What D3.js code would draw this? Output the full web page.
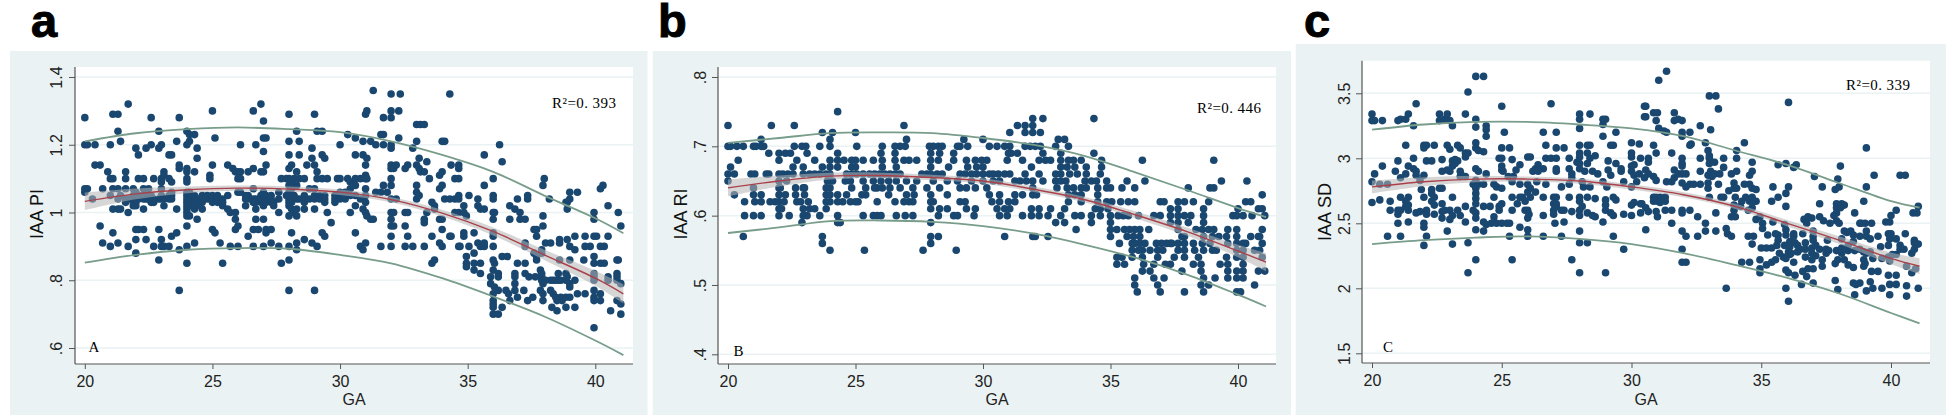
<!DOCTYPE html>
<html><head><meta charset="utf-8">
<script src="https://cdn.jsdelivr.net/npm/d3@7/dist/d3.min.js"></script>
<style>html,body{margin:0;padding:0;background:#fff;overflow:hidden}svg{display:block}</style>
</head><body><svg id="c" width="1946" height="417"></svg>
<script>
// each row: gestational age, then the values read at that age
const gaTicks=[20,25,30,35,40];
const fitGA=[20,22,24,26,28,30,32,34,36,38,40,41.1];

const piTicks=[.6,.8,1,1.2,1.4], piTickLabels=[".6",".8","1","1.2","1.4"];
const piFit=[1.033,1.055,1.067,1.072,1.069,1.06,1.038,.998,.944,.875,.806,.76];
const piUpper=[1.21,1.234,1.246,1.251,1.246,1.237,1.21,1.17,1.12,1.05,.983,.939];
const piLower=[.852,.875,.89,.895,.893,.875,.85,.806,.752,.693,.622,.579];
const piHalf=[.026,.016,.01,.008,.008,.008,.008,.01,.012,.015,.022,.028];
const piRows=[
[20,1.28,1.2,1.07,1.06],[20.1,1.2,1.07],[20.3,1.04],[20.4,1.2,1.14],[20.6,1.14,.96],[20.7,1.07,.91],[20.9,1.12],[21,1.2,1.1,1.05,.9],[21.1,1.29,1.1,1.07,1.01,.94],[21.3,1.29,1.24,1.07,1.04,1.01,.91],[21.4,1.21,1.05,1.01],[21.6,1.12,1.1,1.07,1.04,1.03],[21.7,1.32,1.04,1,.9],[21.9,1.07,1.05,1.03,1.02],
[22,1.19,1.06,1.04,1.03,1.02,.95,.92,.88],[22.1,1.17,1.1,1.05,1.04,.95],[22.3,1.1,1.07,1.05,1.04,1.01,.95],[22.4,1.19,1.05,1.04,.92],[22.5,1.07,1.04],[22.6,1.28,1.2,1.05,1.03],[22.7,1.1,1.04,1.03,.9],[22.9,1.24,1.19,1.04,.95,.86],[23,1.2,1.1,1.09,1.07,1.05,1.04,.92,.9],[23.1,1.12,1.11,1.04,1.02,.9],[23.3,1.17,1.1,1.05,1.04,.9],[23.4,1.17,1.09,1.06,1.05,1.04,.93],[23.6,1.21,1.01,.94],[23.7,1.28,1.14,1.13,.89,.77],
[24,1.24,1.2,1.13,1.12,1.1,1.09,1.06,1.05,1.04,1.03,1.02,1.01,1,.99,.96,.9,.85],[24.1,1.23,1.21,1.06,1.04,1.03,1.02,.99],[24.3,1.23,1.12,1.05,1.03,1.01,.91],[24.4,1.19,1.16,1.04,1.02,.98],[24.6,1.05,1.04,1.03,1.01],[24.8,1.05,1.04],[24.9,1.11,1.1],[25,1.3,1.14,1.05,1.04,1.03,.95],[25.1,1.22,.94],[25.2,1.05,1.04,1.03],[25.3,.91],[25.4,1.04,1.03,1.02,.85],[25.6,1.14,1.05,1.01],[25.7,1.0,.9],[25.8,1.13],[25.9,1.12,1,.98,.95],
[26,1.12,1.1,1.06,.96,.9],[26.1,1.2,1.12,1.1,1.06],[26.3,1.05,1.04,1.02],[26.4,1.12,1.05,1.04,.93],[26.6,1.3,1.13,1.07,1.04,1.03,.95,.9],[26.7,1.2,1.04,1.03,1.01,.98],[26.8,.95],[26.9,1.32,1.12,1.05,1.04,1.03],[27,1.27,1.22,1.18,1.12,1.06,1.05,1.04,1.03,1.02,.98,.9],[27.1,1.22,1.14,1.05,1.04,1.03,.95,.94],[27.3,1.05,1.04,1.03,.95,.91],[27.4,1.03,1.02],[27.6,1.06,1.04,1,.9],[27.7,.85,1.1],[27.9,1.1,1.05],
[28,1.29,1.21,1.17,1.13,1.1,1.08,1.06,1.05,1.04,1.03,1.02,.99,.9,.86,.77],[28.1,1.14,1.09,1.07,1.05,1.03,1.01,.94],[28.2,1.1,1.05,1],[28.3,1.24,1.12,1.08,1.04,1.01,.99,.91,.89],[28.4,1.21,1.17,1.1,1.04],[28.6,1.1,1.05,1.03,1.01,.92],[28.7,1.14],[28.8,1.07,1.04],[28.9,1.19,1.16,.91],[29,1.29,1.14,1.07,1.05,1.04,1.01,.77],[29.1,1.24,1.12,1.1,.9],[29.2,1.05,1.04],[29.3,1.24,1.17,1.1,.94],[29.4,1.16,1.05,1.04,1.03,.93],[29.5,1.1,1.0],[29.65,.97],[29.8,1.05,1.04,1.03],[29.9,1.1],
[30,1.2,1.1,1.06,1.05,1.04],[30.2,1.06,1.04],[30.3,1.23,1.1],[30.4,1.09,1.07,1.05,1],[30.6,1.22,1.17,1.1,1.08,1.05,1.02,.94],[30.8,1.1,1.04,.9],[30.9,1.21,1.17,1.01,.89],[31,1.29,1.14,1.11,1.1,1.07,1.05,1.03,1,.91],[31.05,1.3,1.16,1.1,.99],[31.2,1.21,.98],[31.3,1.36,.98],[31.4,1.2,1.06],[31.6,1.23,1.06,.9],[31.7,1.28,1.23,1.2,1.08],[31.85,1.06],
[32,1.35,1.3,1.28,1.2,1.19,1.14,1.13,1.1,1.08,1.04,1.0,.98,.96,.93,.9],[32.1,1.13,1,.96],[32.2,1.14,1.04],[32.3,1.3,1.22],[32.36,1.35],[32.55,1.13,1,.96,.9],[32.65,1.14,1,.93],[32.85,1.19,.9],[33,1.26,1.21,1.14,1.08,1.06,1.04],[33.1,1.16,1.13,1.05],[33.15,1.26,1.12],[33.3,1.26,1.12,.98,.97,.9],[33.4,1.15,1.0],[33.5,1.1],[33.6,1.03,.93,.85],[33.7,1.02,1.01,.86],[33.9,1.11,1.07,.98,.91],
[34,1.21,1.12,1.08,.98,.95,.9],[34.1,1.04,1.21],[34.3,1.35,.93,1.04],[34.35,1.14,.93],[34.5,1.1,1,1.04],[34.65,1.14,1.13,1.1,1.05,1.04,1,.9],[34.7,.9],[34.85,1.02,1,.94,.93],[34.95,.87,.85,.84,.99],[35.05,1.05,.9],[35.25,.88,.85,.83,.94],[35.4,1.04,1.02,.91],[35.5,1.01,.85,.82,.9],[35.65,1.17,1.08,1.01,.91,.9],[35.9,.81,.79],[36,1.1,1.05,1.04,1,.98,.94,.93,.9,.86,.83,.76,.74,.73,.72,.7],[36.05,1,.85,.78],
[36.2,.82,.81,.77,.7],[36.25,1.2],[36.35,1.15,.87,.72],[36.5,.77],[36.55,.87],[36.6,.76],[36.65,1.02,.98,.74],[36.85,1.01,.82,.81,.79,.77],[36.95,1.04,.85,.75],[37.05,1,.98],[37.2,.77],[37.25,.98,.91,.9,.85,.82],[37.35,1.05,1.04,.74],[37.4,.81],[37.55,.75],[37.6,.95,.88],[37.65,.81],[37.7,.95,.93,.87,.86],[37.85,.83,.77],[37.9,.89,.88,.82,.81,.8],[37.95,1.08,.99,.96,.79,.76,.74],[38,1.1],
[38.05,.91,.8],[38.2,1.04],[38.25,.91,.77,.8],[38.3,.72],[38.35,.76,.8],[38.45,.75,.8],[38.5,.74,.71],[38.55,.82,.8],[38.6,.92,.91,.86],[38.65,.75,.8],[38.7,.74],[38.85,1.03,.75,.72,.82,.8],[38.9,1.03,1.01,.92,.81],[39,1.06,1.04,.9,.86,.79,.78,.75],[39.2,.93,.89,.72,.8],[39.3,1.06,.76],[39.55,.86],[39.6,.93,.9,.76],[39.8,.9],[39.95,1,.98,.93,.87,.85,.82,.81,.8,.77,.75,.74,.66],[40.05,.93],
[40.2,1.07,.9,.85,.76,.74],[40.3,1.08],[40.35,.9,.85],[40.5,1.02,.93,.8,.81],[40.6,.71],[40.85,.86,.82,.81,.8,.74],[40.9,1,.86],[41,.96,.79,.73,.7]
];

const riTicks=[.4,.5,.6,.7,.8], riTickLabels=[".4",".5",".6",".7",".8"];
const riFit=[.64,.65,.657,.658,.655,.65,.638,.623,.601,.577,.549,.533];
const riUpper=[.705,.712,.719,.72,.719,.712,.702,.686,.662,.637,.611,.598];
const riLower=[.575,.583,.592,.593,.591,.585,.574,.558,.539,.515,.486,.469];
const riHalf=[.012,.008,.005,.004,.004,.004,.004,.004,.005,.006,.009,.013];
const riRows=[
[20,.73,.7,.66,.65],[20.1,.7,.67],[20.25,.66,.63],[20.35,.7],[20.4,.68],[20.6,.7,.57],[20.65,.62,.6],[20.9,.66],[21,.7,.64,.63,.6],[21.05,.66,.62],[21.1,.7],[21.3,.71,.7,.63,.62,.6],[21.4,.7],[21.5,.66],[21.6,.69,.66],[21.65,.62],[21.7,.73],[21.85,.62],
[22,.69,.68,.66,.65,.64,.63,.62,.61,.6],[22.05,.64],[22.1,.61],[22.15,.66],[22.2,.62],[22.25,.69,.63],[22.3,.65],[22.35,.66],[22.4,.6],[22.45,.69],[22.55,.67,.66],[22.6,.73,.7],[22.65,.64,.63],[22.7,.68,.62],[22.85,.62],[22.9,.7,.59],[22.95,.67,.66,.64,.61,.6],[23,.64,.63],[23.05,.7],[23.1,.69,.6],[23.15,.62],[23.2,.66,.61],[23.4,.68,.66,.61],[23.6,.7,.66,.6],[23.7,.72,.67,.57,.56],[23.85,.66,.64,.63,.62,.61],[23.9,.65],
[24,.71,.7,.68,.67,.66,.64,.63,.62,.55],[24.1,.72,.65],[24.3,.75,.69,.68,.67,.63,.62,.6,.59],[24.4,.59],[24.5,.62],[24.55,.68],[24.6,.65],[24.65,.66,.63],[24.8,.62,.65],[24.85,.68,.67,.66,.64],[25,.72,.68,.67,.62],[25.05,.7,.66],[25.1,.62],[25.25,.63],[25.3,.68,.66,.65,.6],[25.35,.55],[25.4,.63,.64],[25.55,.66],[25.7,.68,.6,.65],[25.75,.66,.64],[25.85,.62,.6,.64],[25.95,.66],
[26,.69,.65,.6],[26.05,.7,.68,.67,.64],[26.15,.66],[26.3,.63,.65],[26.35,.66,.64],[26.55,.7,.69,.68,.66,.62],[26.6,.67,.6,.65],[26.75,.7,.66,.64],[26.9,.73,.68,.62],[26.95,.7,.6],[27,.71,.63,.65],[27.1,.68,.62],[27.25,.62,.6,.64],[27.3,.63],[27.4,.68,.65],[27.6,.66],[27.65,.55],[27.8,.66,.64],[27.9,.7],[27.95,.69,.68,.67,.66,.63,.62,.61,.59,.57,.56],[28.05,.7,.62,.65],[28.2,.66],[28.25,.7,.68,.6,.57],[28.3,.69,.61,.64],[28.4,.7,.66],[28.6,.63,.61,.65],[28.65,.67],
[28.85,.69,.68,.6],[28.95,.55],[29,.7,.6,.65],[29.1,.7,.66,.62,.64],[29.25,.71],[29.3,.66,.62],[29.35,.68,.61,.64],[29.4,.7,.67],[29.55,.66,.65],[29.65,.6],[29.7,.68,.61,.64],[29.75,.67,.66],[29.95,.68],[30,.71,.67,.66,.65],[30.15,.68,.64],[30.25,.7,.66,.63],[30.35,.62],[30.4,.66,.65],[30.55,.7,.61],[30.6,.66],[30.65,.63,.62,.6,.65],[30.85,.7,.66,.61,.57],[30.95,.68,.6],[31,.69,.62],
[31.05,.72,.7,.66,.61],[31.1,.69],[31.25,.65,.63,.62],[31.35,.73,.69],[31.45,.65],[31.55,.68,.63,.6],[31.65,.73,.72,.7,.66],[31.7,.65],[31.85,.7],[31.9,.67,.61,.6],[31.95,.74,.73,.72,.65,.64,.63,.57],[32.05,.7,.57],[32.1,.63],[32.2,.68,.66,.61,.6],[32.25,.72,.7],[32.35,.74,.69,.65],[32.45,.68],[32.55,.6,.57],[32.65,.68,.61],[32.85,.7,.66,.65,.59],[32.9,.64],[32.95,.71],[33.05,.69,.68,.67,.66,.65,.6],[33.2,.71,.61,.59],[33.25,.65],[33.3,.67,.64],[33.35,.7,.68,.63,.62],[33.4,.66],[33.55,.68,.64],[33.6,.67,.63,.6],[33.65,.58],[33.7,.66],[33.85,.68,.64,.63,.62,.6],[34.05,.67,.66,.64],[34,.65],[34.25,.65,.6,.59],[34.35,.74,.69],[34.4,.61],[34.45,.65],[34.5,.64,.63,.62],[34.6,.66,.61,.6],[34.65,.68,.67],[34.85,.65,.64,.62],[34.9,.61],
[35,.64,.6,.59,.58,.57],[35.05,.62],[35.25,.58,.54,.53],[35.3,.6],[35.35,.56],[35.4,.62],[35.45,.64,.54],[35.5,.6],[35.55,.58,.53],[35.65,.65,.57],[35.7,.62,.6],[35.75,.58],[35.85,.56,.55,.54],[35.9,.57],[35.95,.64,.62,.58,.56,.51,.5],[36.05,.49],[36.1,.6,.55],[36.15,.58,.57,.56],[36.25,.68,.55,.54,.52],[36.3,.53],[36.35,.65,.56],[36.5,.58],[36.55,.55,.52],[36.7,.6,.53,.51],[36.8,.56],[36.85,.55,.54,.5],[36.95,.62,.6,.49],[37,.56],[37.05,.55],[37.1,.62,.51],[37.15,.53],[37.2,.56],[37.35,.61,.6,.59,.56,.53],[37.4,.56],[37.5,.54],[37.65,.62,.61,.6,.59,.58,.56,.55],[37.8,.57,.52],[37.9,.62,.6,.57,.56,.55,.54,.49],[38.05,.64,.59],[38.15,.6],[38.25,.62,.56,.53],[38.3,.55],[38.35,.58],[38.45,.54],[38.55,.53,.52,.5],[38.6,.58,.56],[38.65,.61,.6,.59,.57,.55,.51,.49],[38.85,.62,.58,.5],[38.9,.64,.56],[39,.57,.55],[39.05,.68,.64,.58],[39.1,.51],[39.15,.55],[39.25,.57],[39.3,.53],[39.35,.65],[39.55,.57,.54],[39.6,.58,.56,.53,.52,.51],[39.8,.6],[39.95,.6,.58,.57,.56,.55,.54,.52,.51,.49],[40,.61],[40.1,.49],[40.2,.6,.56,.55,.54,.53,.52,.51],[40.3,.62,.56],[40.35,.65],[40.5,.62,.57],[40.55,.6],[40.65,.55,.5],[40.8,.61,.57,.52],[40.85,.57,.55],[40.95,.63,.61,.58,.56,.54],[41.05,.6,.52]
];

const sdTicks=[1.5,2,2.5,3,3.5], sdTickLabels=["1.5","2","2.5","3","3.5"];
const sdFit=[2.78,2.82,2.84,2.84,2.825,2.78,2.72,2.63,2.5,2.37,2.23,2.17];
const sdUpper=[3.22,3.26,3.28,3.28,3.26,3.23,3.17,3.06,2.95,2.81,2.67,2.62];
const sdLower=[2.34,2.37,2.39,2.4,2.38,2.34,2.27,2.18,2.08,1.96,1.81,1.73];
const sdHalf=[.05,.035,.025,.02,.02,.02,.02,.02,.025,.03,.045,.06];
const sdRows=[
[20,3.34,3.29,2.82,2.66],[20.1,3.29,2.88],[20.3,2.8,2.68],[20.4,3.29,2.94],[20.6,2.8,2.4],[20.7,2.67,2.6],[20.9,2.9],[21,3.29,2.98,2.6,2.57,2.5],[21.1,3.3,2.85,2.7,2.6,2.4],[21.3,3.3,3.1,2.88,2.67,2.63],[21.4,3.34,2.94,2.7,2.64,2.6,2.51],[21.6,3.25,3,2.92],[21.7,3.42,2.9,2.87,2.58],[21.85,2.83,2.59],[21.9,2.76],
[22,3.1,3.08,2.87,2.7,2.5,2.47,2.33],[22.1,3.1,2.98,2.6,2.57,2.4],[22.3,2.98,2.76,2.73,2.67],[22.4,3.1,2.7,2.64,2.57],[22.6,3.34,3.29,2.77],[22.7,2.99,2.9,2.77,2.65,2.59,2.54],[22.8,3.3,2.6],[22.9,3.34,3.1,2.91,2.44],[23,3.29,3.07,2.9,2.6,2.53],[23.1,3.25,2.98,2.94,2.7,2.56,2.34],[23.2,2.99,2.96],[23.3,3.1,2.98,2.6],[23.4,3.08,2.9,2.86,2.56],[23.45,2.87],[23.6,3.34,3.04,3.01,2.86,2.63,2.51],[23.7,3.51,3.04,2.35,2.12],[23.9,2.8,2.6],
[24,3.63,3.3,3.24,3.12,3.08,2.92,2.83,2.77,2.73,2.69,2.65,2.58,2.54,2.45,2.22],[24.1,3.06,2.9,2.8],[24.3,3.63,3.05,2.8,2.63,2.51,2.44],[24.4,3.25,3.22,3.17,2.88,2.49],[24.55,2.63],[24.6,2.5],[24.7,2.8,2.7,2.55,2.51],[24.8,2.78,2.5],[24.9,3,2.6,2.63],[25,3.4,3.08,3,2.94,2.91,2.77,2.65,2.5],[25.05,2.9],[25.1,3.2],[25.2,2.5],[25.25,2.86],[25.3,3.08,2.5,2.4],[25.4,2.99,2.82,2.7,2.6,2.22],[25.45,2.86],[25.55,2.91],[25.6,2.65],[25.7,2.95,2.8,2.7,2.47],[25.8,2.7],[25.9,2.67,2.6],
[26,3.01,2.8,2.74,2.6,2.54,2.45,2.4],[26.05,2.57],[26.1,3.01,2.77,2.7],[26.2,2.9],[26.3,2.92,2.74],[26.35,2.82],[26.4,2.95,2.9],[26.6,3.2,2.92,2.7,2.56,2.4],[26.7,3.1,3,2.8],[26.9,3.42,3],[27,2.7,2.65,2.6,2.57],[27.05,2.5],[27.1,3.2,3.08,3,2.9,2.92,2.7,2.65,2.63],[27.3,2.78,2.6,2.4],[27.4,3.08,2.6,2.51],[27.6,3,2.92,2.8,2.7],[27.7,2.88,2.85,2.59,2.22],[27.9,2.97],
[28,3.34,3.3,3.23,3.1,3.04,3.01,2.96,2.92,2.7,2.67,2.6,2.56,2.44,2.35,2.12],[28.1,2.82,2.63],[28.15,2.78],[28.2,2.9],[28.3,3.1,3.04,2.96,2.7,2.58,2.35],[28.4,3.34,3.1,3,2.78],[28.5,2.9,2.56],[28.6,3.02,2.69,2.55],[28.7,2.88],[28.9,3.3,3.26,3.17,2.82,2.51],[29,3.3,2.68,2.64,2.6,2.12],[29.05,2.78],[29.1,2.98,2.91],[29.2,3.1,2.87,2.58],[29.3,3.1,2.7,2.56,2.4],[29.4,3.2,2.96,2.68],[29.6,2.92,2.9],[29.7,2.82,2.57,2.3],
[30,3.12,3.04,3.01,2.94,2.9,2.78,2.64,2.56],[30.1,2.95,2.87,2.66],[30.2,2.82],[30.3,3.11,2.88],[30.35,3,2.65,2.58],[30.4,2.65],[30.5,3.4,3.32,2.85],[30.55,3.4,3.32,2.91,2.62,2.45],[30.65,3,2.97,2.88,2.59],[30.85,3.35,3.1,2.86,2.7,2.67],[30.95,3.29,3.04,2.83,2.7,2.59],[31,3.35,2.55,2.67],[31.05,3.6,3.23],[31.1,2.7,2.66],[31.25,3.21],[31.3,2.7,2.67,2.6],[31.35,3.67,3.2,2.82],[31.55,3.04,2.82,2.6,2.5],[31.65,3.35,3.29,2.91,2.85],[31.8,3.3,2.88],[31.95,3.29,3.2,3.17,3,2.96,2.94,2.88,2.81,2.6,2.58,2.44,2.3,2.2],
[32.1,2.88,2.78,2.4,2.2],[32.25,3.2,3.1,2.8,2.6],[32.3,3.11],[32.4,2.8],[32.55,2.55,2.4],[32.65,3.25,3,2.9,2.8],[32.85,3.12,2.5,2.44],[32.95,3.06,2.87,2.81,2.77],[33,3.48,3.02,3,2.96,2.7],[33.05,3.22,2.9],[33.1,2.86],[33.2,2.97,2.88],[33.25,3.48,2.58,2.44],[33.35,3.38,2.8],[33.4,2.88],[33.45,2.7],[33.55,3,2.93,2.7],[33.65,2.46,2],[33.7,2.42],[33.75,2.75],[33.85,2.88,2.55,2.4],[33.95,2.81,2.77,2.64,2.6],[34,2.7,2.55],[34.05,3.06,3,2.9,2.77],[34.2,2.63],[34.25,2.67,2.2],[34.35,3.12,2.8],[34.4,2.7],[34.5,2.6,2.4],[34.55,2.87,2.8,2.67,2.2],[34.65,2.97,2.9,2.77,2.7,2.62,2.34],[34.7,2.67,2.4],[34.8,2.76,2.67,2.53],[34.95,2.55,2.22,2.15,2.12],
[35,2.31],[35.05,2.5,2.46],[35.2,2.31,2.18],[35.25,2.41],[35.4,2.67,2.31,2.2],[35.45,2.78,2.51],[35.55,2.42,2.22],[35.6,2.33],[35.65,2.95,2.7,2.41,2.37],[35.7,2.27],[35.85,2.24],[35.9,2.49,2.33],[35.95,2.96,2.73,2.63,2.45,2.41,2.23,2.14,2],[36.05,3.43,2.78,2.28,2.12,1.9],[36.1,2.36,2.32,2.26],[36.15,2.27],[36.25,2.93,2.42,2.4,2.2],[36.3,2.35,2.1],[36.35,2.95],[36.4,2.33,2.28],[36.5,2.3],[36.55,2.03],[36.6,2.42,2.13],[36.65,2.53],[36.7,2.35,2.3,2.24],[36.75,2.5,2.09],[36.8,2.55,2.15],[36.95,2.54,2.31,2.27,2.22],[37,2.44,2.4,2.37,2.15,2.04],[37.05,2.86],[37.1,2.33,2.25],[37.25,2.65,2.55,2.3],[37.35,2.78,2.22,2.17],[37.4,2.52],[37.5,2.3,2.27],[37.55,2.37],[37.6,2.29],[37.65,2.5],[37.8,2.56],[37.85,2.76,2.19,2.06],[37.9,2.65,2.62,2.58,2.52,2.29],[37.95,2.84,2.22,1.99],[38,2.78,2.5],[38.05,2.94,2.62],[38.1,2.65,2.31,2.27,2.38],[38.2,2.64,2.44,2.22],[38.3,2.43],[38.35,2.33,2.29,2.18],[38.45,2.44],[38.55,2.41,2.36,2.16,2.04],[38.6,2.58,2.29,1.95],[38.65,2.03],[38.8,2.5,2.4,2.3,2.04],[38.85,2.5],[38.95,2.67,2.28,2.22,2.17],[39,2.5,2.19],[39.05,3.08,2.78,2.44,2.4,2.27,1.98],[39.2,2.38,2.28,2.05],[39.25,2.5,2.13],[39.3,2.23,2],[39.35,2.87],[39.5,2.4,2.13],[39.6,2.32],[39.65,2.23,2],[39.8,2.51],[39.9,2.42,2.33,2.24,2.1],[39.95,2.51,2.38,2.21,2.03,1.95],[40,2.56,2.42],[40.05,2.26],[40.2,2.6,2.38,2.26,2.1,2.03],[40.35,2.87,2.33,2.3],[40.5,2.3],[40.55,2.87,2.42],[40.6,2.17,2.02,1.94],[40.8,2.27,2.12],[40.85,2.58],[40.9,2.37,2.35,2.3],[40.95,2.15],[41,2.58],[41.05,2.63,2.34,2]
];

const panelLetters=["a","b","c"], innerLetters=["A","B","C"], yTitles=["IAA PI","IAA RI","IAA SD"], r2Labels=["R²=0. 393","R²=0. 446","R²=0. 339"];

// layout, in page pixels
const layout=[
 {bg:[10,51,637.5,364],plot:[75,67,558,297],xr:[84.8,595.3],yr:[348,77],letter:[31,37],r2:[552,108,64],tag:[94,352],ytl:56,yt:37,gaX:354,ytY:214},
 {bg:[652.7,51,638.3,364],plot:[718,67,558,297],xr:[728,1238],yr:[354.3,77],letter:[658,37],r2:[1197,113,64],tag:[738.5,356],ytl:700,yt:681,gaX:997,ytY:214},
 {bg:[1295.7,44,650.3,371],plot:[1362,60.7,568,302.3],xr:[1372,1891],yr:[353.3,93.3],letter:[1304,37],r2:[1846,90,64],tag:[1388,352],ytl:1344,yt:1325,gaX:1646,ytY:212}
];
const yDomains=[[.6,1.4],[.4,.8],[1.5,3.5]];
const yTicksAll=[piTicks,riTicks,sdTicks], yLabelsAll=[piTickLabels,riTickLabels,sdTickLabels];
const rowsAll=[piRows,riRows,sdRows], fitAll=[piFit,riFit,sdFit], upAll=[piUpper,riUpper,sdUpper], loAll=[piLower,riLower,sdLower], halfAll=[piHalf,riHalf,sdHalf];

const svg=d3.select("#c");
const sans="'Liberation Sans',Arial,sans-serif", serif="'Liberation Serif','DejaVu Serif',serif";

layout.forEach((L,i)=>{
  const g=svg.append("g");
  g.append("rect").attr("x",L.bg[0]).attr("y",L.bg[1]).attr("width",L.bg[2]).attr("height",L.bg[3]).attr("fill","#eaf2f3");
  g.append("rect").attr("x",L.plot[0]).attr("y",L.plot[1]).attr("width",L.plot[2]).attr("height",L.plot[3]).attr("fill","#fff");
  const x=d3.scaleLinear().domain([20,40]).range(L.xr);
  const y=d3.scaleLinear().domain(yDomains[i]).range(L.yr);
  const left=L.plot[0], bottom=L.plot[1]+L.plot[3], right=left+L.plot[2], top=L.plot[1];

  g.selectAll(".grid").data(yTicksAll[i]).join("line").attr("x1",left).attr("x2",right)
    .attr("y1",d=>y(d)).attr("y2",d=>y(d)).attr("stroke","#eaf2f3").attr("stroke-width",1.5);

  const pts=rowsAll[i].flatMap(r=>r.slice(1).map(v=>[r[0],v]));
  g.append("g").selectAll("circle").data(pts).join("circle")
    .attr("cx",d=>x(d[0])).attr("cy",d=>y(d[1])).attr("r",3.8).attr("fill","#1a476f");

  const curve=d3.curveCatmullRom.alpha(.5);
  const band=d3.area().x((d,k)=>x(fitGA[k])).y0((d,k)=>y(d-halfAll[i][k])).y1((d,k)=>y(d+halfAll[i][k])).curve(curve);
  g.append("path").attr("d",band(fitAll[i])).attr("fill","#b4b4b4").attr("fill-opacity",.55);
  const line=d3.line().x((d,k)=>x(fitGA[k])).y(d=>y(d)).curve(curve);
  g.append("path").attr("d",line(upAll[i])).attr("fill","none").attr("stroke","#789d8b").attr("stroke-width",1.8);
  g.append("path").attr("d",line(loAll[i])).attr("fill","none").attr("stroke","#789d8b").attr("stroke-width",1.8);
  g.append("path").attr("d",line(fitAll[i])).attr("fill","none").attr("stroke","#a9404a").attr("stroke-width",1.4);

  // axes
  const xAxis=d3.axisBottom(x).tickValues(gaTicks).tickSize(5).tickPadding(3).tickFormat(d3.format("d"));
  const ax=g.append("g").attr("transform",`translate(0,${bottom})`).call(xAxis);
  ax.select(".domain").remove();
  ax.selectAll("line").attr("stroke","#555");
  ax.selectAll("text").attr("font-family",sans).attr("font-size",16).attr("fill","#222").attr("dy","0.95em");
  const yAxis=d3.axisLeft(y).tickValues(yTicksAll[i]).tickSize(6).tickFormat((d,k)=>yLabelsAll[i][k]);
  const ay=g.append("g").attr("transform",`translate(${left},0)`).call(yAxis);
  ay.select(".domain").remove();
  ay.selectAll("line").attr("stroke","#555");
  ay.selectAll("text").attr("font-family",sans).attr("font-size",16).attr("fill","#222")
    .attr("text-anchor","middle").attr("dy","0.35em").attr("x",0).attr("y",0)
    .attr("transform",`translate(${L.ytl-left},0) rotate(-90)`);
  g.append("line").attr("x1",left).attr("x2",left).attr("y1",top).attr("y2",bottom).attr("stroke","#555").attr("stroke-width",1.2);
  g.append("line").attr("x1",left).attr("x2",right).attr("y1",bottom).attr("y2",bottom).attr("stroke","#555").attr("stroke-width",1.2);

  g.append("text").attr("x",L.gaX).attr("y",405).attr("text-anchor","middle").attr("font-family",sans).attr("font-size",16).attr("fill","#222").text("GA");
  g.append("text").attr("transform",`translate(${L.yt+6},${L.ytY}) rotate(-90)`).attr("text-anchor","middle").attr("font-family",sans).attr("font-size",18).attr("fill","#111").text(yTitles[i]);
  g.append("text").attr("x",L.letter[0]).attr("y",L.letter[1]).attr("font-family",sans).attr("font-weight",700).attr("font-size",47).attr("fill","#000").attr("stroke","#000").attr("stroke-width",1).text(panelLetters[i]);
  g.append("text").attr("x",L.r2[0]).attr("y",L.r2[1]).attr("textLength",L.r2[2]).attr("lengthAdjust","spacing").attr("font-family",serif).attr("font-size",15).attr("fill","#000").text(r2Labels[i]);
  g.append("text").attr("x",L.tag[0]).attr("y",L.tag[1]).attr("text-anchor","middle").attr("font-family",serif).attr("font-size",15).attr("fill","#000").text(innerLetters[i]);
});
</script></body></html>
